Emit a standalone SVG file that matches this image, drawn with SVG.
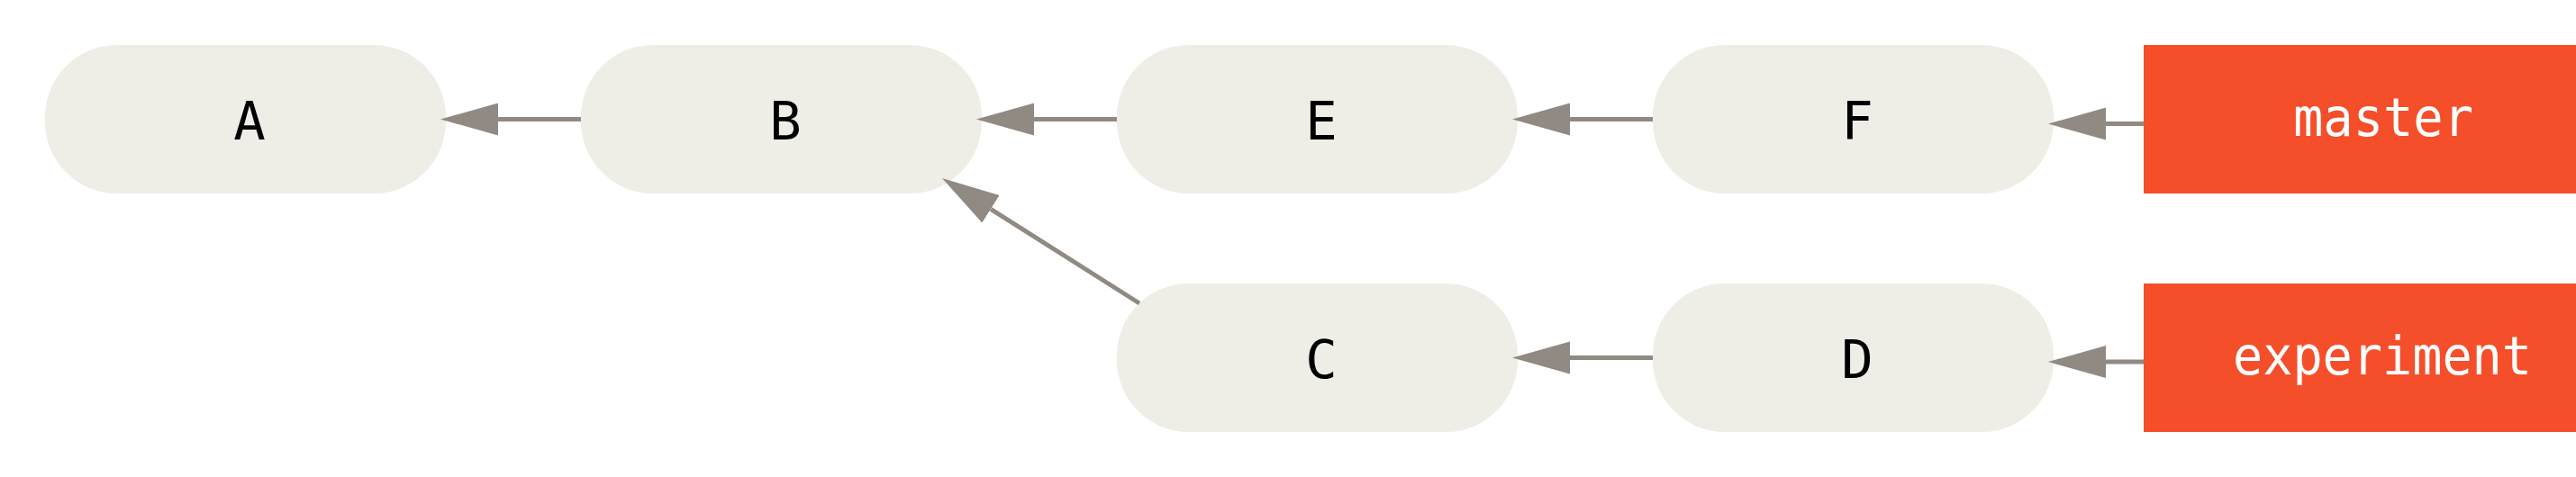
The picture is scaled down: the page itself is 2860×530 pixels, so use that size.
<svg xmlns="http://www.w3.org/2000/svg" width="2860" height="530" viewBox="0 0 2860 530">
<style>
.commit{fill:#EEEDE6}
.branch{fill:#F44E2A}
.lbl{font-family:"DejaVu Sans Mono","Liberation Mono",monospace;font-size:59px;fill:#000;text-anchor:middle}
.blbl{font-family:"DejaVu Sans Mono","Liberation Mono",monospace;font-size:59px;fill:#fff;text-anchor:middle}
.edge{stroke:#908A83;stroke-width:5;fill:none}
</style>
<defs>
<marker id="ah" markerUnits="userSpaceOnUse" markerWidth="66" markerHeight="40" viewBox="0 -20 66 40" refX="0" refY="0" orient="auto">
<path d="M0,-18 L64,0 L0,18 z" fill="#908A83"/>
</marker>
</defs>
<rect width="2860" height="530" fill="#fff"/>
<g id="A"><rect class="commit" x="50" y="50" width="445" height="165" rx="80" ry="80"/><text class="lbl" x="277" y="155">A</text></g>
<g id="B"><rect class="commit" x="645" y="50" width="445" height="165" rx="80" ry="80"/><text class="lbl" x="872" y="155">B</text></g>
<g id="E"><rect class="commit" x="1240" y="50" width="445" height="165" rx="80" ry="80"/><text class="lbl" x="1467" y="155">E</text></g>
<g id="F"><rect class="commit" x="1835" y="50" width="445" height="165" rx="80" ry="80"/><text class="lbl" x="2062" y="155">F</text></g>
<g id="C"><rect class="commit" x="1240" y="315" width="445" height="165" rx="80" ry="80"/><text class="lbl" x="1467" y="420">C</text></g>
<g id="D"><rect class="commit" x="1835" y="315" width="445" height="165" rx="80" ry="80"/><text class="lbl" x="2062" y="420">D</text></g>
<g id="master"><rect class="branch" x="2380" y="50" width="480" height="165"/><text class="blbl" x="2646" y="151" textLength="200" lengthAdjust="spacingAndGlyphs">master</text></g>
<g id="experiment"><rect class="branch" x="2380" y="315" width="480" height="165"/><text class="blbl" x="2645" y="416" textLength="332" lengthAdjust="spacingAndGlyphs">experiment</text></g>
<g id="connectors">
<line class="edge" x1="645" y1="132.5" x2="553" y2="132.5" marker-end="url(#ah)"/>
<line class="edge" x1="1240" y1="132.5" x2="1148" y2="132.5" marker-end="url(#ah)"/>
<line class="edge" x1="1835" y1="132.5" x2="1743" y2="132.5" marker-end="url(#ah)"/>
<line class="edge" x1="2380" y1="137.5" x2="2338" y2="137.5" marker-end="url(#ah)"/>
<line class="edge" x1="1835" y1="397.5" x2="1743" y2="397.5" marker-end="url(#ah)"/>
<line class="edge" x1="2380" y1="402" x2="2338" y2="402" marker-end="url(#ah)"/>
<line class="edge" x1="1265" y1="337" x2="1100" y2="232.3" marker-end="url(#ah)"/>
</g>
</svg>
